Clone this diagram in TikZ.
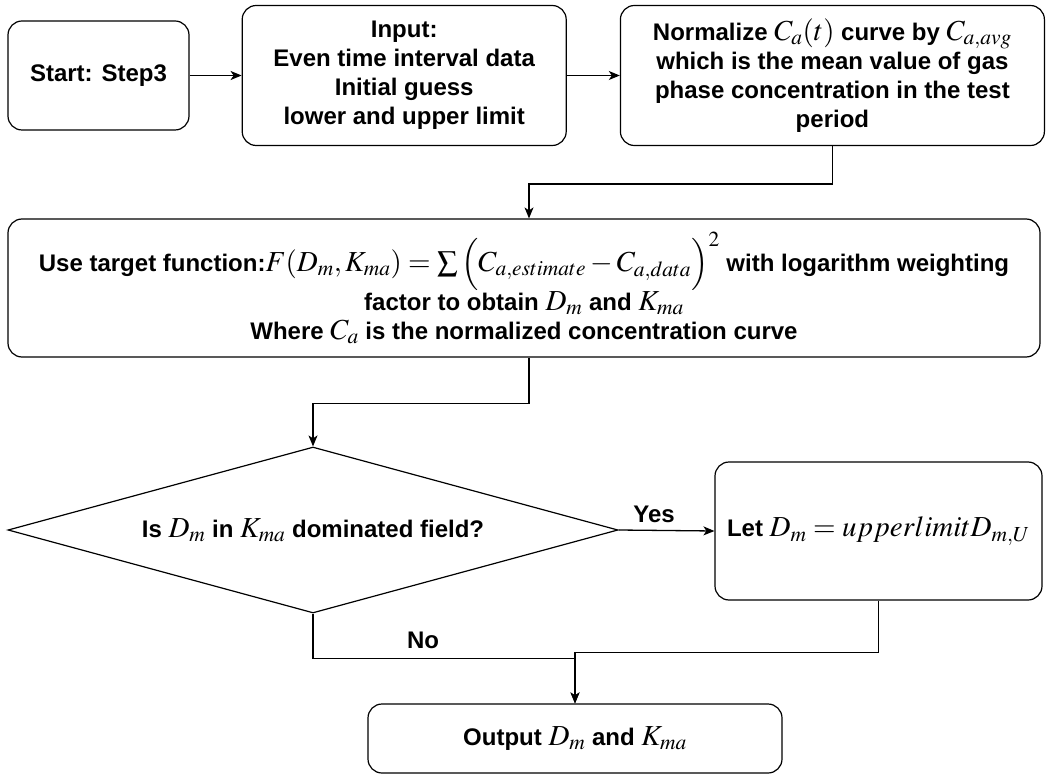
\documentclass[tikz,border=0pt]{standalone}
\usepackage{mathptmx}
\usepackage{fontspec}
\setmainfont{Liberation Sans}
\usetikzlibrary{arrows.meta, positioning, shapes.geometric}

% math is set a little larger than the labels
\newcommand{\mth}[1]{{\fontsize{29}{29}\selectfont$#1$}}

\tikzset{
  flowbox/.style={draw, rounded corners=14pt, line width=1.2pt, align=center, inner sep=2pt,
    font=\bfseries\fontsize{24}{29}\selectfont},
  decision/.style={diamond, draw, line width=1.2pt, align=center, inner sep=0pt, aspect=3.6,
    font=\bfseries\fontsize{24}{29}\selectfont},
  flowarrow/.style={-{Stealth[length=11pt, width=9pt, inset=3pt]}, line width=1.3pt},
  flowlabel/.style={font=\bfseries\fontsize{24}{29}\selectfont},
}

\begin{document}
\begin{tikzpicture}[x=1pt, y=1pt]
  \useasboundingbox (0,0) rectangle (1051,-775);

  % top row
  \node[flowbox, minimum width=181pt, minimum height=109pt] (start) at (98.5,-75.5) {Start: Step3};
  \node[flowbox, minimum width=324pt, minimum height=140pt, right=52pt of start] (input) {Input:\\Even time interval data\\Initial guess\\lower and upper limit};
  \node[flowbox, minimum width=424pt, minimum height=140pt, right=53pt of input] (norm) {Normalize \mth{C_a(t)} curve by \mth{C_{a,avg}}\\which is the mean value of gas\\phase concentration in the test\\period};

  % fitting step
  \node[flowbox, minimum width=1032pt, minimum height=138pt] (target) at (524,-288) {Use target function:\mth{F(D_m,K_{ma})=\sum\Big(C_{a,estimate}-C_{a,data}\Big)^2} with logarithm weighting\\factor to obtain \mth{D_m} and \mth{K_{ma}}\\Where \mth{C_a} is the normalized concentration curve};

  % check and result
  \node[decision, minimum width=610pt, minimum height=166pt] (decide) at (313,-530) {Is \mth{D_m} in \mth{K_{ma}} dominated field?};
  \node[flowbox, minimum width=327pt, minimum height=138pt] (let) at (878.5,-531) {Let \mth{D_m=upperlimitD_{m,U}}};
  \node[flowbox, minimum width=414pt, minimum height=69pt] (out) at (575,-738.5) {Output \mth{D_m} and \mth{K_{ma}}};

  % Arrows
  \draw[flowarrow] (start) -- (input);
  \draw[flowarrow] (input) -- (norm);
  \draw[flowarrow] (norm.south) -- ++(0,-38) -| ([xshift=5pt]target.north);
  \draw[flowarrow] ([xshift=5pt]target.south) -- ++(0,-46) -| (decide.north);
  \draw[flowarrow] (decide.east) -- node[flowlabel, above=4pt, pos=0.37]{Yes} (let.west);
  \draw[flowarrow] (decide.south) -- ++(0,-45) -| node[flowlabel, above=6pt, pos=0.21]{No} (out.north);
  \draw[flowarrow] (let.south) -- ++(0,-52) -| (out.north);
\end{tikzpicture}
\end{document}
